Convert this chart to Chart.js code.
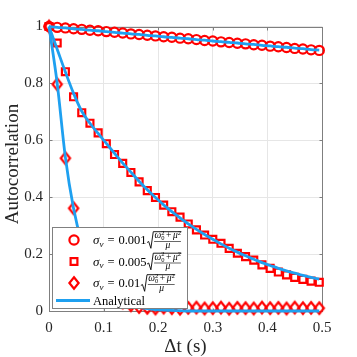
<!DOCTYPE html>
<html>
<head>
<meta charset="utf-8">
<script src="https://cdn.jsdelivr.net/npm/chart.js@4.4.0/dist/chart.umd.min.js"></script>
<style>
  html, body { margin: 0; padding: 0; background: #fff; }
  canvas { display: block; }
</style>
</head>
<body>
<canvas id="autocorr-chart" width="357" height="357"></canvas>
<script>
// lag times (s)
const lags = [0, 0.015, 0.03, 0.045, 0.06, 0.075, 0.09, 0.105, 0.12, 0.135, 0.15, 0.165,
  0.18, 0.195, 0.21, 0.225, 0.24, 0.255, 0.27, 0.285, 0.3, 0.315, 0.33, 0.345, 0.36,
  0.375, 0.39, 0.405, 0.42, 0.435, 0.45, 0.465, 0.48, 0.495];

const xTicks = [0, 0.1, 0.2, 0.3, 0.4, 0.5];
const yTicks = [0, 0.2, 0.4, 0.6, 0.8, 1];

// simulated autocorrelation (markers)
const sim001 = [1.000, 0.997, 0.995, 0.992, 0.990, 0.987, 0.985, 0.982, 0.980, 0.977, 0.974, 0.972,
  0.969, 0.967, 0.964, 0.962, 0.959, 0.957, 0.954, 0.951, 0.949, 0.946, 0.944, 0.941, 0.939,
  0.936, 0.934, 0.931, 0.929, 0.926, 0.923, 0.921, 0.918, 0.916];
const sim005 = [1.000, 0.942, 0.841, 0.753, 0.697, 0.660, 0.626, 0.588, 0.550, 0.519, 0.487, 0.454,
  0.423, 0.399, 0.372, 0.349, 0.330, 0.306, 0.285, 0.267, 0.252, 0.238, 0.220, 0.203, 0.191,
  0.179, 0.162, 0.150, 0.137, 0.127, 0.118, 0.111, 0.105, 0.101];
const sim01 = [1.000, 0.797, 0.537, 0.361, 0.245, 0.160, 0.105, 0.070, 0.046, 0.030, 0.020, 0.014,
  0.011, 0.009, 0.012, 0.010, 0.008, 0.011, 0.012, 0.009, 0.010, 0.012, 0.008, 0.011, 0.010,
  0.009, 0.012, 0.010, 0.011, 0.009, 0.012, 0.010, 0.011, 0.010];

// analytical curves
const ana001 = [1.000, 0.997, 0.995, 0.992, 0.990, 0.987, 0.985, 0.982, 0.979, 0.977, 0.974, 0.972,
  0.969, 0.967, 0.964, 0.962, 0.959, 0.957, 0.954, 0.952, 0.949, 0.947, 0.944, 0.942, 0.939,
  0.937, 0.934, 0.932, 0.929, 0.927, 0.924, 0.922, 0.919, 0.917];
const ana005 = [1.000, 0.920, 0.840, 0.765, 0.702, 0.660, 0.624, 0.589, 0.554, 0.520, 0.488, 0.456,
  0.426, 0.399, 0.373, 0.349, 0.327, 0.306, 0.287, 0.269, 0.252, 0.236, 0.221, 0.207, 0.194,
  0.182, 0.170, 0.160, 0.150, 0.141, 0.133, 0.125, 0.118, 0.112];
const ana01 = [1.000, 0.800, 0.540, 0.360, 0.240, 0.160, 0.105, 0.070, 0.045, 0.030, 0.020, 0.013,
  0.008, 0.005, 0.003, 0.002, 0.001, 0, 0, 0, 0, 0, 0, 0, 0,
  0, 0, 0, 0, 0, 0, 0, 0, 0];

const noiseLevels = ['0.001', '0.005', '0.01'];

const RED = '#ff0000';
const BLUE = '#1ea0f0';
const SERIF = '"Liberation Serif", "Times New Roman", serif';

const toPoints = ys => ys.map((y, i) => ({ x: lags[i], y: y }));

// diamond marker (a bit taller than wide, like matlab)
function makeDiamond() {
  const c = document.createElement('canvas');
  c.width = 16; c.height = 20;
  const g = c.getContext('2d');
  g.strokeStyle = RED;
  g.lineWidth = 2.2;
  g.lineJoin = 'miter';
  g.beginPath();
  g.moveTo(8, 4.3);
  g.lineTo(12.6, 10);
  g.lineTo(8, 15.7);
  g.lineTo(3.4, 10);
  g.closePath();
  g.stroke();
  return c;
}
const diamond = makeDiamond();

// frame with inward ticks, drawn under the data
const framePlugin = {
  id: 'frame',
  beforeDatasetsDraw(chart) {
    const { ctx, chartArea: a, scales } = chart;
    const L = Math.round(a.left) + 0.5, R = Math.round(a.right) + 0.5;
    const T = Math.round(a.top) + 0.5, B = Math.round(a.bottom) + 0.5;
    ctx.save();
    ctx.strokeStyle = '#7f7f7f';
    ctx.lineWidth = 1;
    ctx.strokeRect(L, T, R - L, B - T);
    ctx.beginPath();
    xTicks.forEach(v => {
      const px = Math.round(scales.x.getPixelForValue(v)) + 0.5;
      ctx.moveTo(px, B); ctx.lineTo(px, B - 3);
      ctx.moveTo(px, T); ctx.lineTo(px, T + 3);
    });
    yTicks.forEach(v => {
      const py = Math.round(scales.y.getPixelForValue(v)) + 0.5;
      ctx.moveTo(L, py); ctx.lineTo(L + 3, py);
      ctx.moveTo(R, py); ctx.lineTo(R - 3, py);
    });
    ctx.stroke();
    ctx.restore();
  }
};

// sigma_v = c * sqrt((w0^2 + mu^2)/mu)
function drawSigma(ctx, x, yc, coef) {
  const base = yc + 4;
  ctx.fillStyle = '#000';
  ctx.textAlign = 'left';
  ctx.textBaseline = 'alphabetic';
  ctx.font = 'italic 13px ' + SERIF;
  ctx.fillText('σ', x, base);
  x += ctx.measureText('σ').width;
  ctx.font = 'italic 9px ' + SERIF;
  ctx.fillText('v', x, base + 2.5);
  x += ctx.measureText('v').width + 4;
  ctx.font = '12.5px ' + SERIF;
  ctx.fillText('=', x, base);
  x += ctx.measureText('=').width + 4;
  ctx.fillText(coef, x, base);
  x += ctx.measureText(coef).width + 0.5;

  // numerator pieces
  const numBase = yc - 2;
  let nx = x + 7.5;
  const numStart = nx;
  ctx.font = 'italic 9.5px ' + SERIF;
  ctx.fillText('ω', nx, numBase);
  nx += ctx.measureText('ω').width;
  ctx.font = '6.5px ' + SERIF;
  ctx.fillText('2', nx, numBase - 3.5);
  ctx.fillText('0', nx, numBase + 2);
  nx += ctx.measureText('2').width + 1.5;
  ctx.font = '9.5px ' + SERIF;
  ctx.fillText('+', nx, numBase);
  nx += ctx.measureText('+').width + 1.5;
  ctx.font = 'italic 9.5px ' + SERIF;
  ctx.fillText('μ', nx, numBase);
  nx += ctx.measureText('μ').width;
  ctx.font = '6.5px ' + SERIF;
  ctx.fillText('2', nx, numBase - 3.5);
  nx += ctx.measureText('2').width + 0.5;

  // radical sign
  const top = yc - 8.3, bot = yc + 8.3;
  ctx.strokeStyle = '#000';
  ctx.lineWidth = 0.9;
  ctx.beginPath();
  ctx.moveTo(x, yc + 2.5);
  ctx.lineTo(x + 1.6, yc + 1.5);
  ctx.lineTo(x + 3.8, bot);
  ctx.lineTo(x + 6.2, top);
  ctx.lineTo(nx, top);
  ctx.stroke();

  // fraction bar and denominator
  ctx.lineWidth = 0.6;
  ctx.beginPath();
  ctx.moveTo(numStart - 0.5, yc + 1.5);
  ctx.lineTo(nx - 0.5, yc + 1.5);
  ctx.stroke();
  ctx.font = 'italic 9.5px ' + SERIF;
  const mw = ctx.measureText('μ').width;
  ctx.fillText('μ', (numStart + nx) / 2 - mw / 2, yc + 7.5);
}

const legendPlugin = {
  id: 'mathLegend',
  afterDraw(chart) {
    const ctx = chart.ctx;
    ctx.save();
    // box
    ctx.fillStyle = '#fff';
    ctx.fillRect(52, 227, 135, 81);
    ctx.strokeStyle = '#808080';
    ctx.lineWidth = 1;
    ctx.strokeRect(52.5, 227.5, 135, 81);

    const rows = [240, 261.5, 283];
    const mx = 74;
    ctx.strokeStyle = RED;
    ctx.lineWidth = 2.2;
    // circle
    ctx.beginPath();
    ctx.arc(mx, rows[0], 4.6, 0, Math.PI * 2);
    ctx.stroke();
    // square
    ctx.strokeRect(mx - 3.4, rows[1] - 3.4, 6.8, 6.8);
    // diamond
    ctx.drawImage(diamond, mx - diamond.width / 2, rows[2] - diamond.height / 2);

    noiseLevels.forEach((c, i) => drawSigma(ctx, 93, rows[i], c));

    // analytical line
    ctx.strokeStyle = BLUE;
    ctx.lineWidth = 2.8;
    ctx.beginPath();
    ctx.moveTo(56, 300.5);
    ctx.lineTo(90, 300.5);
    ctx.stroke();
    ctx.fillStyle = '#000';
    ctx.font = '12.5px ' + SERIF;
    ctx.textAlign = 'left';
    ctx.textBaseline = 'alphabetic';
    ctx.fillText('Analytical', 93, 304.5);

    // axis titles
    ctx.fillStyle = '#262626';
    ctx.font = '19px ' + SERIF;
    ctx.textAlign = 'center';
    ctx.fillText('Δt (s)', 185.5, 352);
    ctx.translate(17.5, 164);
    ctx.rotate(-Math.PI / 2);
    ctx.fillText('Autocorrelation', 0, 0);
    ctx.restore();
  }
};

const markerSet = (data, style, extra) => Object.assign({
  data: toPoints(data),
  showLine: false,
  pointStyle: style,
  pointRadius: 4.6,
  pointBorderWidth: 2.2,
  pointBorderColor: RED,
  pointBackgroundColor: 'rgba(0,0,0,0)',
  clip: false,
  order: 1
}, extra || {});

const lineSet = data => ({
  data: toPoints(data),
  showLine: true,
  borderColor: BLUE,
  borderWidth: 2.8,
  pointRadius: 0,
  cubicInterpolationMode: 'monotone',
  clip: false,
  order: 0
});

new Chart(document.getElementById('autocorr-chart'), {
  type: 'scatter',
  data: {
    datasets: [
      markerSet(sim001, 'circle'),
      markerSet(sim005, 'rect', { pointRadius: 4.9 }),
      markerSet(sim01, diamond),
      lineSet(ana001),
      lineSet(ana005),
      lineSet(ana01)
    ]
  },
  options: {
    responsive: false,
    animation: false,
    devicePixelRatio: 1,
    layout: { padding: { top: 26.5, right: 35, left: 0, bottom: 0 } },
    plugins: {
      legend: { display: false },
      tooltip: { enabled: false }
    },
    scales: {
      x: {
        type: 'linear',
        min: 0,
        max: 0.5,
        afterBuildTicks: s => { s.ticks = xTicks.map(v => ({ value: v })); },
        afterFit: s => { s.height = 46; },
        ticks: {
          font: { family: SERIF, size: 15 },
          color: '#262626',
          padding: 8,
          maxRotation: 0,
          callback: v => String(v)
        },
        grid: { color: '#e6e6e6', drawTicks: false },
        border: { display: false }
      },
      y: {
        type: 'linear',
        min: 0,
        max: 1,
        afterBuildTicks: s => { s.ticks = yTicks.map(v => ({ value: v })); },
        afterFit: s => { s.width = 49; },
        ticks: {
          font: { family: SERIF, size: 15 },
          color: '#262626',
          padding: 6,
          callback: v => String(v)
        },
        grid: { color: '#e6e6e6', drawTicks: false },
        border: { display: false }
      }
    }
  },
  plugins: [framePlugin, legendPlugin]
});
</script>
</body>
</html>
